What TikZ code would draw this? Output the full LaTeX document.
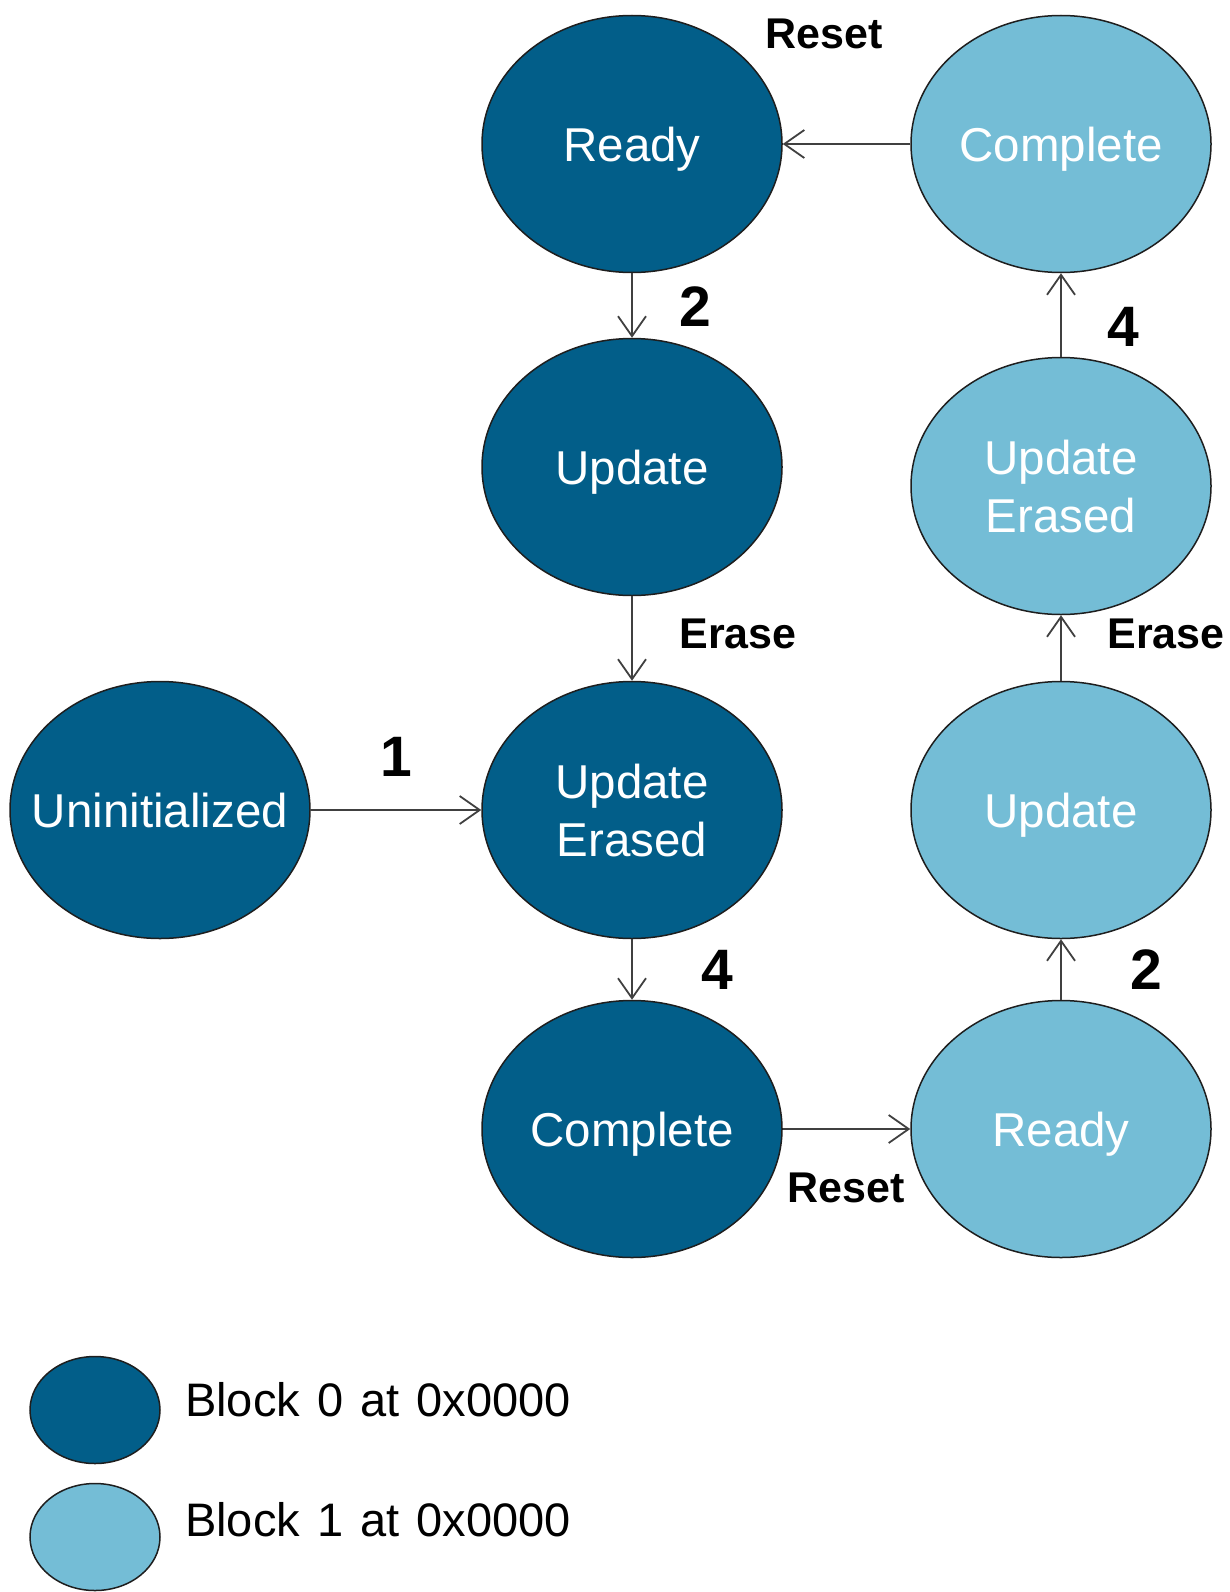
\documentclass[tikz,border=0pt]{standalone}
\usepackage{fontspec}
\setmainfont{Liberation Sans}
\usetikzlibrary{shapes.geometric,arrows.meta}
\definecolor{darkblk}{HTML}{025E89}
\definecolor{lightblk}{HTML}{74BDD6}
\definecolor{edgecol}{HTML}{1E1E1E}
\definecolor{arrcol}{HTML}{404040}
\newcommand\mylegfont{\fontsize{47}{56}\selectfont\fontdimen2\font=17pt\relax}
\tikzset{
  state/.style={ellipse, draw=edgecol, line width=1.5pt, minimum width=300pt, minimum height=257pt,
    inner xsep=-30pt, inner ysep=0pt, text depth=0pt,
    text=white, align=center, font=\fontsize{47.5}{58}\selectfont},
  b0/.style={state, fill=darkblk},
  b1/.style={state, fill=lightblk},
  conn/.style={draw=arrcol, line width=1.8pt, -{Straight Barb[length=20pt,width=28pt,line width=1.8pt]}},
  evlbl/.style={font=\fontsize{43}{50}\selectfont\bfseries, text=black, inner sep=0pt},
  numlbl/.style={font=\fontsize{57}{60}\selectfont\bfseries, text=black, inner sep=0pt},
  legell/.style={ellipse, draw=edgecol, line width=1.5pt, minimum width=130pt, minimum height=107pt, inner sep=0pt},
  legtxt/.style={font=\mylegfont, text=black, anchor=west, inner sep=0pt}
}
\begin{document}
\begin{tikzpicture}[x=1pt,y=-1pt]
\useasboundingbox (0,0) rectangle (1230,1592);
% Block 0 states
\node[b0] (ready0) at (632,144) {Ready};
\node[b0] (upd0) at (632,467) {Update};
\node[b0] (ue0) at (632,810) {Update\\Erased};
\node[b0] (unin) at (160,810) {Uninitialized};
\node[b0] (comp0) at (632,1129) {Complete};
% Block 1 states
\node[b1] (ready1) at (1061,1129) {Ready};
\node[b1] (upd1) at (1061,810) {Update};
\node[b1] (ue1) at (1061,486) {Update\\Erased};
\node[b1] (comp1) at (1061,144) {Complete};
% connectors
\draw[conn] (comp1) -- (ready0);
\draw[conn] (ready0) -- (upd0);
\draw[conn] (upd0) -- (ue0);
\draw[conn] (unin) -- (ue0);
\draw[conn] (ue0) -- (comp0);
\draw[conn] (comp0) -- (ready1);
\draw[conn] (ready1) -- (upd1);
\draw[conn] (upd1) -- (ue1);
\draw[conn] (ue1) -- (comp1);
% labels
\node[evlbl] (lreset1) at (824,34) {Reset};
\node[numlbl] (l2a) at (695,307) {2};
\node[evlbl] (lerase1) at (738,634) {Erase};
\node[numlbl] (l1) at (396,757) {1};
\node[numlbl] (l4a) at (717,970) {4};
\node[evlbl] (lreset2) at (846,1188) {Reset};
\node[numlbl] (l4b) at (1123,327) {4};
\node[evlbl] (lerase2) at (1166,634) {Erase};
\node[numlbl] (l2b) at (1146,970) {2};
% legend
\node[legell, fill=darkblk] (leg0) at (95,1410) {};
\node[legell, fill=lightblk] (leg1) at (95,1537) {};
\node[legtxt] (legt0) at (185,1400) {Block 0 at 0x0000};
\node[legtxt] (legt1) at (185,1520) {Block 1 at 0x0000};
\end{tikzpicture}
\end{document}
